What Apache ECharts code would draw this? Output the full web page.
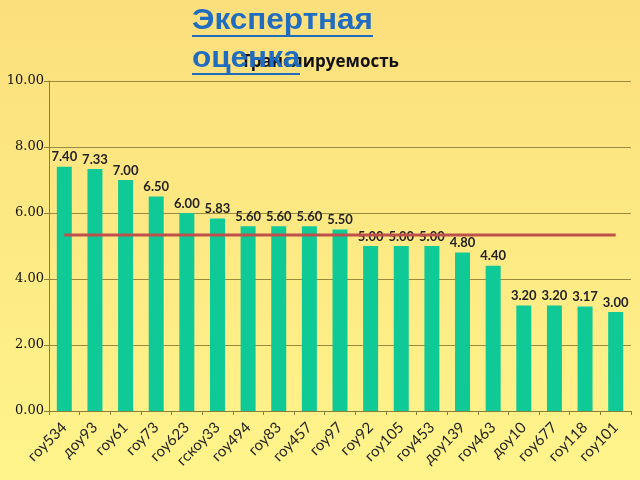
<!DOCTYPE html>
<html><head><meta charset="utf-8">
<script src="https://cdn.jsdelivr.net/npm/echarts@6/dist/echarts.min.js"></script>
<style>html,body{margin:0;padding:0;}#c{width:640px;height:480px;}</style>
</head><body><div id="c"></div>
<script>
const categories = ['гоу534','доу93','гоу61','гоу73','гоу623','гскоу33','гоу494','гоу83','гоу457','гоу97','гоу92','гоу105','гоу453','доу139','гоу463','доу10','гоу677','гоу118','гоу101'];
const values = [7.40,7.33,7.00,6.50,6.00,5.83,5.60,5.60,5.60,5.50,5.00,5.00,5.00,4.80,4.40,3.20,3.20,3.17,3.00];
const average = [5.33,5.33,5.33,5.33,5.33,5.33,5.33,5.33,5.33,5.33,5.33,5.33,5.33,5.33,5.33,5.33,5.33,5.33,5.33];
const yTicks = [0,2,4,6,8,10];

const chart = echarts.init(document.getElementById('c'));
const axisColor = '#8c7d3a';
const blue = '#1f6cc0';
chart.setOption({
  animation: false,
  backgroundColor: {type:'linear',x:0,y:0,x2:0,y2:1,colorStops:[{offset:0,color:'#fbdf7c'},{offset:1,color:'#fff48b'}]},
  title: {
    text: 'Транслируемость', left: 'center', top: 49,
    textStyle: {fontFamily: 'Open Sans', fontSize: 17, fontWeight: 'bold', color: '#111'}
  },
  grid: {left: 49, right: 9, top: 81, bottom: 69},
  xAxis: {
    type: 'category', data: categories,
    axisLine: {lineStyle: {color: axisColor}},
    axisTick: {show: true, length: 4, lineStyle: {color: axisColor}},
    axisLabel: {rotate: 45, interval: 0, fontFamily: 'Lato', fontSize: 15, color: '#222', margin: 14}
  },
  yAxis: {
    type: 'value', min: 0, max: 10, interval: 2,
    axisLine: {show: true, lineStyle: {color: axisColor}},
    axisTick: {show: true, length: 5, lineStyle: {color: axisColor}},
    splitLine: {lineStyle: {color: '#9a8a3e', width: 1}},
    axisLabel: {formatter: v => yTicks.includes(v) ? v.toFixed(2) : '', fontFamily: 'DejaVu Serif', fontSize: 13, color: '#111', margin: 5}
  },
  series: [
    {
      type: 'bar', data: values, barWidth: 15, z: 2,
      itemStyle: {color: '#0fca96'},
      label: {show: true, position: 'top', distance: 3, formatter: p => p.value.toFixed(2), fontFamily: 'Lato', fontSize: 13, fontWeight: 'bold', color: '#222'}
    },
    {
      type: 'line', data: average, symbol: 'none', z: 5,
      lineStyle: {color: '#c0504d', width: 3}
    }
  ],
  graphic: [
    {type: 'text', x: 192, y: 6, scaleX: 1.05, z: 100, style: {text: 'Экспертная', font: 'bold 30px "Liberation Sans"', fill: blue}},
    {type: 'text', x: 192, y: 44, scaleX: 1.05, z: 100, style: {text: 'оценка', font: 'bold 30px "Liberation Sans"', fill: blue}},
    {type: 'rect', shape: {x: 192, y: 35, width: 181, height: 2}, z: 100, style: {fill: blue}},
    {type: 'rect', shape: {x: 192, y: 73, width: 108, height: 2}, z: 100, style: {fill: blue}}
  ]
});
</script></body></html>
